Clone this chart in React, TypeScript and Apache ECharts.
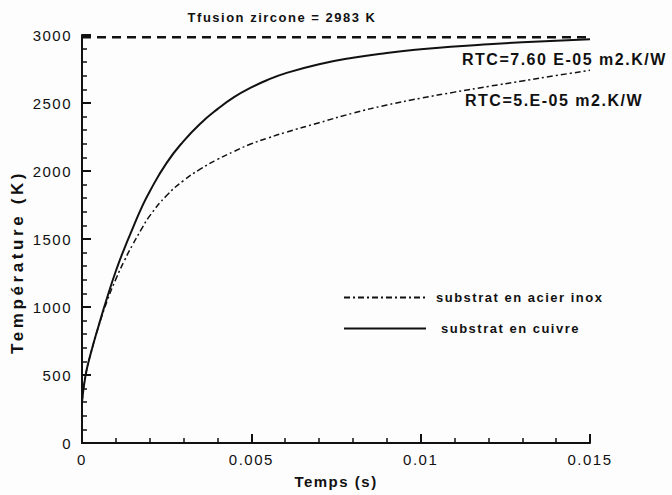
import React, { useEffect, useRef } from "react";
import * as echarts from "echarts";

// Time (s)
const timeS = [0, 0.0001, 0.00025, 0.0005, 0.00075, 0.001, 0.00125, 0.0015, 0.00175, 0.002, 0.0025, 0.003, 0.0035, 0.004, 0.0045, 0.005, 0.0055, 0.006, 0.007, 0.008, 0.009, 0.01, 0.011, 0.012, 0.013, 0.014, 0.015];
// Température (K) - substrat en cuivre (RTC=7.60 E-05)
const cuivre = [300, 490, 650, 870, 1075, 1265, 1430, 1580, 1725, 1850, 2060, 2220, 2350, 2455, 2545, 2615, 2672, 2718, 2785, 2833, 2868, 2895, 2916, 2932, 2946, 2958, 2968];
// Température (K) - substrat en acier inox (RTC=5.E-05)
const acierInox = [300, 490, 650, 865, 1050, 1205, 1340, 1460, 1570, 1670, 1820, 1930, 2015, 2085, 2145, 2200, 2243, 2283, 2355, 2425, 2485, 2535, 2580, 2622, 2662, 2702, 2740];
// Température de fusion de la zircone (K)
const fusionT = 2983;
const fusionSpan = [0, 0.015];

const seriesNames = ["substrat en acier inox", "substrat en cuivre"];
const titleText = "Tfusion zircone = 2983 K";
const rtcCuivre = "RTC=7.60 E-05 m2.K/W";
const rtcInox = "RTC=5.E-05 m2.K/W";

const INK = "#111";
const FONT = '"Liberation Sans", Arial, sans-serif';

export default function App() {
  const ref = useRef<HTMLDivElement>(null);
  useEffect(() => {
    if (!ref.current) return;
    const chart = echarts.init(ref.current, null, { renderer: "svg" });
    chart.setOption({
      animation: false,
      backgroundColor: "#fdfdfd",
      grid: { left: 82, right: 82, top: 35, bottom: 52 },
      xAxis: {
        type: "value",
        min: 0,
        max: 0.015,
        interval: 0.005,
        name: "Temps (s)",
        nameLocation: "middle",
        nameGap: 31,
        nameTextStyle: { color: INK, fontFamily: FONT, fontWeight: "bold", fontSize: 15 },
        axisLine: { show: true, lineStyle: { color: INK, width: 2 } },
        axisTick: { show: true, inside: true, length: 9, lineStyle: { color: INK, width: 2 } },
        minorTick: { show: true, splitNumber: 5, length: 5, lineStyle: { color: INK, width: 1.5 } },
        splitLine: { show: false },
        axisLabel: {
          color: INK,
          fontFamily: FONT,
          fontSize: 15,
          margin: 9,
          formatter: (v: number) => String(parseFloat(v.toFixed(4))),
        },
      },
      yAxis: {
        type: "value",
        min: 0,
        max: 3000,
        interval: 500,
        name: "Température (K)",
        nameLocation: "middle",
        nameGap: 56,
        nameTextStyle: { color: INK, fontFamily: FONT, fontWeight: "bold", fontSize: 17, padding: [0, 46, 0, 0] },
        axisLine: { show: true, lineStyle: { color: INK, width: 2 } },
        axisTick: { show: true, inside: true, length: 9, lineStyle: { color: INK, width: 2 } },
        minorTick: { show: true, splitNumber: 5, length: 5, lineStyle: { color: INK, width: 1.5 } },
        splitLine: { show: false },
        axisLabel: { color: INK, fontFamily: FONT, fontSize: 15, margin: 10, formatter: (v: number) => String(v) },
      },
      legend: {
        orient: "vertical",
        left: 343,
        top: 291,
        padding: 0,
        itemWidth: 82,
        itemHeight: 14,
        itemGap: 18,
        itemStyle: { opacity: 0 },
        data: [
          { name: seriesNames[0], textStyle: { padding: [0, 0, 0, 5] } },
          { name: seriesNames[1], textStyle: { padding: [0, 0, 0, 10] } },
        ],
        textStyle: { color: INK, fontFamily: FONT, fontWeight: "bold", fontSize: 13 },
      },
      series: [
        {
          name: "fusion",
          type: "line",
          symbol: "none",
          silent: true,
          data: fusionSpan.map((t) => [t, fusionT]),
          lineStyle: { color: INK, width: 2.5, type: [9, 6] },
        },
        {
          name: seriesNames[0],
          type: "line",
          symbol: "none",
          smooth: 0.5,
          data: timeS.map((t, i) => [t, acierInox[i]]),
          lineStyle: { color: INK, width: 1.5, type: [6, 3, 2, 3] },
          itemStyle: { color: INK },
        },
        {
          name: seriesNames[1],
          type: "line",
          symbol: "none",
          smooth: 0.5,
          data: timeS.map((t, i) => [t, cuivre[i]]),
          lineStyle: { color: INK, width: 2 },
          itemStyle: { color: INK },
        },
      ],
      graphic: [
        {
          type: "text",
          x: 282,
          y: 17,
          style: { text: titleText, fill: INK, font: `bold 13px ${FONT}`, align: "center", verticalAlign: "middle" },
        },
        {
          type: "text",
          x: 462,
          y: 59,
          style: { text: rtcCuivre, fill: INK, font: `bold 16px ${FONT}`, align: "left", verticalAlign: "middle" },
        },
        {
          type: "text",
          x: 465,
          y: 100,
          style: { text: rtcInox, fill: INK, font: `bold 16px ${FONT}`, align: "left", verticalAlign: "middle" },
        },
      ],
    });
    return () => chart.dispose();
  }, []);
  return (
    <div style={{ position: "absolute", left: 0, top: 0, width: 672, height: 495 }}>
      <style>{`.chartbox text { letter-spacing: 1.5px; } .chartbox text[style*="17px"] { letter-spacing: 3.6px; }`}</style>
      <div ref={ref} className="chartbox" style={{ width: 672, height: 495 }} />
    </div>
  );
}
